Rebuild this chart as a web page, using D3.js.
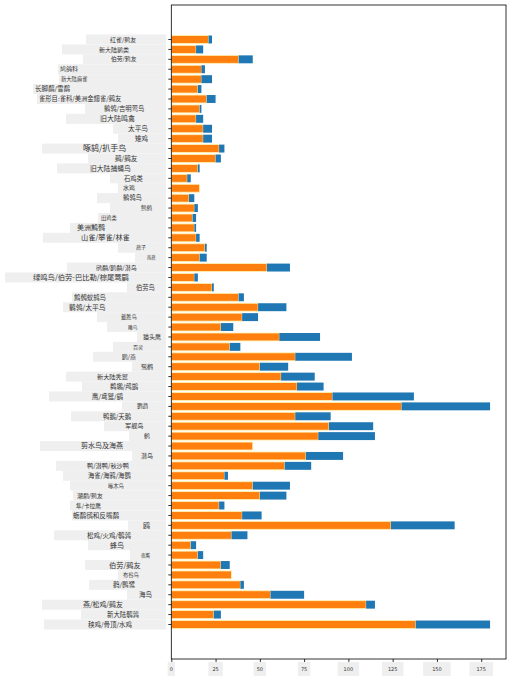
<!DOCTYPE html>
<html>
<head>
<meta charset="utf-8">
<script src="https://cdn.jsdelivr.net/npm/d3@7"></script>
<style>
  body { margin: 0; background: #fff; }
  svg { display: block; }
</style>
</head>
<body>
<div id="chart"></div>
<script>
// chart data, top row first
const categories = [
  "红雀/鹀友", "新大陆鹟类", "伯劳/鸦友", "鸠鸽科", "新大陆麻雀", "长脚鹬/雪鹬",
  "雀形目:雀科/美洲金翅雀/鹀友", "鹡鸰/吉明莺鸟", "旧大陆鸣禽", "太平鸟", "雉鸡", "啄鸫/扒手鸟",
  "鹀/鹀友", "旧大陆捕蝇鸟", "石鸡类", "水鸡", "鹡鸰鸟", "鹪鹩",
  "田鸡类", "美洲鹪鹩", "山雀/攀雀/林雀", "燕子", "雨燕", "鸻鹬/鸥鹬/潜鸟",
  "绿鸣鸟/伯劳-巴比勒/棕尾莺鹛", "伯劳鸟", "鹪鹩蚁鸫鸟", "鹡鸰/太平鸟", "戴胜鸟", "雕鸟",
  "猫头鹰", "百灵", "鸥/燕", "鹭鹳", "新大陆秃鹫", "鹈鹕/鸬鹚",
  "鹰/鸢鹫/鹞", "鹦鹉", "鸭鹅/天鹅", "军舰鸟", "鹤", "剪水鸟及海燕",
  "潜鸟", "鸭/潜鸭/秋沙鸭", "海雀/海鸦/海鹦", "啄木鸟", "潮鹬/鹀友", "隼/卡拉鹰",
  "蛎鹬鸻和反嘴鹬", "鸥", "松鸡/火鸡/鹌鹑", "蜂鸟", "夜鹰", "伯劳/鹀友",
  "布谷鸟", "鹳/鹮鹭", "海鸟", "燕/松鸡/鹀友", "新大陆鹌鹑", "秧鸡/骨顶/水鸡"
];
const orangeValues = [
  21, 14, 38, 17, 17, 15, 20, 16, 14, 18, 18, 27, 25, 15, 9, 16, 10, 13, 12, 13, 14,
  19, 16, 54, 13, 23, 38, 49, 40, 28, 61, 33, 70, 50, 62, 71, 91, 130, 70, 89, 83, 46,
  76, 64, 30, 46, 50, 27, 40, 124, 34, 11, 15, 28, 34, 39, 56, 110, 24, 138
];
const blueValues = [
  2, 4, 8, 2, 6, 2, 5, 1, 4, 5, 5, 3, 3, 1, 2, 0, 3, 2, 2, 1, 2,
  1, 4, 13, 2, 1, 3, 16, 9, 7, 23, 6, 32, 16, 19, 15, 46, 50, 20, 25, 32, 0,
  21, 15, 2, 21, 15, 3, 11, 36, 9, 3, 3, 5, 0, 2, 19, 5, 4, 42
];
const xTicks = [0, 25, 50, 75, 100, 125, 150, 175];

// label look: [box left, text left, font size]
const labelLayout = [
  [86,110,6],[62,99,6],[83,111,5.8],[58,60,6],[59,61,5.3],[33,35,6.5],
  [37,39,6.3],[85,104,6.3],[66,100,7],[113,128,6.7],[118,135,6.5],[42,83,8],
  [88,115,6.6],[57,90,6.8],[110,124,6.3],[118,123,6],[97,123,6.3],[110,141,5.5],
  [98,101,5.2],[70,77,7],[43,81,7.2],[118,136,5],[135,147,4.2],[67,96,6],
  [5,33,7.3],[127,136,6.3],[72,74,6.4],[63,69,6.8],[97,121,5.3],[107,128,4.8],
  [137,143,6],[113,133,5],[93,122,5.8],[132,141,6],[66,97,6.2],[82,110,6.4],
  [49,92,6.5],[122,137,5.5],[71,103,6.4],[104,125,6.2],[129,144,6],[40,81,7],
  [132,141,6],[56,87,6.2],[63,88,6.3],[70,108,5.3],[73,77,5.9],[70,76,5.7],
  [72,73,6.6],[128,143,7],[54,87,6.5],[88,110,7],[130,141,4.5],[85,109,7.2],
  [118,123,5.3],[89,113,6.5],[127,139,6.5],[42,83,6.9],[81,107,6.4],[44,88,6.5]
];
const tickPad = [2, 4, 3, 3, 6, 6, 9, 7];

const W = 512, H = 683;
const margin = { top: 5, right: 6, bottom: 24, left: 171.3 };
const plotW = W - margin.left - margin.right;
const plotH = H - margin.top - margin.bottom;
const CJK = '"Noto Sans CJK SC", "Noto Sans", sans-serif';

const svg = d3.select("#chart").append("svg")
  .attr("width", W)
  .attr("height", H);

const x = d3.scaleLinear().domain([0, 189]).range([0, plotW]);
const y = d3.scaleBand().domain(categories).range([0, plotH])
  .paddingInner(0.2).paddingOuter(3.08);

const g = svg.append("g").attr("transform", `translate(${margin.left},${margin.top})`);

const rows = categories.map((c, i) => ({ name: c, o: orangeValues[i], b: blueValues[i], i }));

// bars
g.selectAll(".bar-o").data(rows).enter().append("rect")
  .attr("class", "bar-o")
  .attr("x", x(0))
  .attr("y", d => y(d.name))
  .attr("width", d => x(d.o) - x(0))
  .attr("height", y.bandwidth())
  .attr("fill", "#ff7f0e")
  .attr("stroke", "#fff3b5")
  .attr("stroke-width", 0.8);

g.selectAll(".bar-b").data(rows.filter(d => d.b > 0)).enter().append("rect")
  .attr("class", "bar-b")
  .attr("x", d => x(d.o))
  .attr("y", d => y(d.name))
  .attr("width", d => x(d.o + d.b) - x(d.o))
  .attr("height", y.bandwidth())
  .attr("fill", "#1f77b4");

// frame
g.append("rect")
  .attr("width", plotW).attr("height", plotH)
  .attr("fill", "none").attr("stroke", "#000").attr("stroke-width", 0.8);

// y axis ticks and labels
const yAxis = g.append("g").call(d3.axisLeft(y).tickSize(3).tickFormat(""));
yAxis.select(".domain").remove();
yAxis.selectAll("line").attr("stroke", "#000").attr("stroke-width", 0.8);

const lab = svg.append("g");
lab.selectAll(".lbox").data(rows).enter().append("rect")
  .attr("class", "lbox")
  .attr("x", d => labelLayout[d.i][0])
  .attr("y", d => margin.top + y(d.name) + y.bandwidth() / 2 - 5)
  .attr("width", d => 166 - labelLayout[d.i][0])
  .attr("height", 10)
  .attr("fill", "#efefef");
lab.selectAll(".ltxt").data(rows).enter().append("text")
  .attr("class", "ltxt")
  .attr("x", d => labelLayout[d.i][1])
  .attr("y", d => margin.top + y(d.name) + y.bandwidth() / 2)
  .attr("dy", "0.35em")
  .attr("font-family", CJK)
  .attr("font-size", d => labelLayout[d.i][2])
  .attr("fill", "#333")
  .text(d => d.name);

// x axis
const xAxis = g.append("g").attr("transform", `translate(0,${plotH})`)
  .call(d3.axisBottom(x).tickValues(xTicks).tickSize(3).tickFormat(""));
xAxis.select(".domain").remove();
xAxis.selectAll("line").attr("stroke", "#000").attr("stroke-width", 0.8);

const xl = g.append("g").attr("transform", `translate(0,${plotH + 10})`);
xTicks.forEach((t, k) => {
  const txt = xl.append("text")
    .attr("x", x(t)).attr("y", 0).attr("dy", "0.35em")
    .attr("text-anchor", "middle")
    .attr("font-family", "DejaVu Sans, sans-serif")
    .attr("font-size", 5)
    .attr("fill", "#333")
    .text(t);
  const bb = txt.node().getBBox();
  xl.insert("rect", "text")
    .attr("x", bb.x - tickPad[k]).attr("y", -7)
    .attr("width", bb.width + 2 * tickPad[k]).attr("height", 14)
    .attr("fill", "#efefef");
});
</script>
</body>
</html>
